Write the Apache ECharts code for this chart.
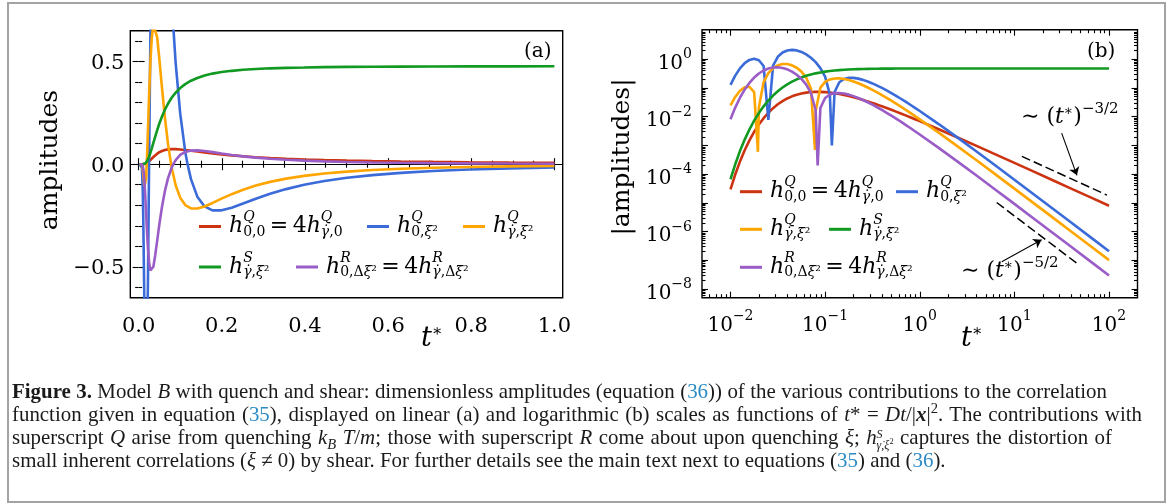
<!DOCTYPE html>
<html><head><meta charset="utf-8">
<script src="https://cdn.jsdelivr.net/npm/echarts@6/dist/echarts.min.js"></script>
<style>
html,body{margin:0;padding:0;background:#fff;}
#chart{position:absolute;left:0;top:0;width:1168px;height:504px;}
#frame{position:absolute;left:7px;top:2px;width:1159px;height:501px;box-sizing:border-box;border:2px solid #a3a3a3;pointer-events:none;}
#caption{position:absolute;left:12px;top:380px;font-family:'Liberation Serif';font-size:20.9px;line-height:23px;color:#1a1a1a;white-space:nowrap;}
#caption .ln{display:block;height:23px;}
#caption .j{text-align:justify;text-align-last:justify;}
#caption .c{color:#2a8bc6;}
#caption sup,#caption sub{font-size:70%;line-height:0;}
#caption .stk{display:inline-block;vertical-align:-5px;font-size:12px;line-height:11px;}
#caption .stk span{display:block;}
</style></head><body>
<div id="chart"></div>
<div id="caption">
<span class="ln j" style="width:1095px"><b>Figure 3.</b> Model <i>B</i> with quench and shear: dimensionless amplitudes (equation (<span class="c">36</span>)) of the various contributions to the correlation</span>
<span class="ln j" style="width:1130px">function given in equation (<span class="c">35</span>), displayed on linear (a) and logarithmic (b) scales as functions of <i>t</i>* = <i>Dt</i>/|<b><i>x</i></b>|<sup>2</sup>. The contributions with</span>
<span class="ln j" style="width:1100px">superscript <i>Q</i> arise from quenching <i>k</i><sub><i>B</i></sub> <i>T</i>/<i>m</i>; those with superscript <i>R</i> come about upon quenching <i>ξ</i>; <i>h</i><span class="stk"><span><i>S</i></span><span><i>γ̇</i>,<i>ξ</i><sup>2</sup></span></span> captures the distortion of</span>
<span class="ln">small inherent correlations (<i>ξ</i> ≠ 0) by shear. For further details see the main text next to equations (<span class="c">35</span>) and (<span class="c">36</span>).</span>
</div>
<div id="frame"></div>
<script>
// ---------------- data ----------------
const T = [0.002, 0.005, 0.008, 0.01, 0.01122, 0.01259, 0.01413, 0.01585, 0.01778, 0.01995, 0.02239, 0.02512, 0.02818, 0.03162, 0.03548, 0.03981, 0.04467, 0.05012, 0.05623, 0.0631, 0.07079, 0.07943, 0.08913, 0.1, 0.1122, 0.1259, 0.1413, 0.1585, 0.1778, 0.1995, 0.2239, 0.2512, 0.2818, 0.3162, 0.3548, 0.3981, 0.4467, 0.5012, 0.5623, 0.631, 0.7079, 0.7943, 0.8913, 1.0, 1.585, 2.512, 3.981, 6.31, 10, 15.85, 25.12, 39.81, 63.1, 100];

const RED = [0, 0, 1.8e-6, 2.958e-5, 9.687e-5, 2.739e-4, 6.785e-4, 1.494e-3, 2.965e-3, 5.356e-3, 8.905e-3, 0.01376, 0.01989, 0.02710, 0.03505, 0.04326, 0.05121, 0.05841, 0.06445, 0.06907, 0.07208, 0.07348, 0.07337, 0.07190, 0.06931, 0.06583, 0.06170, 0.05716, 0.05240, 0.04760, 0.04287, 0.03833, 0.03404, 0.03006, 0.02640, 0.02308, 0.02009, 0.01743, 0.01507, 0.01299, 0.01117, 0.009581, 0.008194, 0.007004, 0.003676, 0.001897, 9.684e-4, 4.909e-4, 2.479e-4, 1.248e-4, 6.272e-5, 3.150e-5, 1.580e-5, 7.927e-6];

const BLUE = [0, 0, -0.01768, -0.1279, -0.2699, -0.4814, -0.7315, -0.9489, -1.0404, -0.9274, -0.5818, -0.0078, 0.5966, 1.2175, 1.7167, 2.0267, 2.1261, 2.0359, 1.8032, 1.4840, 1.1340, 0.7941, 0.4923, 0.2472, 0.0597, -0.07278, -0.1580, -0.2056, -0.2249, -0.2247, -0.2118, -0.1916, -0.1682, -0.1442, -0.1213, -0.1005, -0.08207, -0.06635, -0.05314, -0.04221, -0.03331, -0.02612, -0.02035, -0.01581, -0.005547, -0.001870, -6.157e-4, -1.996e-4, -6.414e-5, -2.048e-5, -6.518e-6, -2.070e-6, -6.559e-7, -2.078e-7];

const ORANGE = [0, 0, -0.003673, -0.02459, -0.04882, -0.07995, -0.1067, -0.1103, -0.07137, 0.0208, 0.1612, 0.3284, 0.4905, 0.6157, 0.6818, 0.6805, 0.6169, 0.5072, 0.3714, 0.2290, 0.09664, -0.01567, -0.1028, -0.1629, -0.1991, -0.2152, -0.2159, -0.2057, -0.1886, -0.1679, -0.1459, -0.1243, -0.1042, -0.08608, -0.07028, -0.05680, -0.04548, -0.03616, -0.02855, -0.02240, -0.01749, -0.01360, -0.01051, -0.008110, -0.002791, -9.300e-4, -3.041e-4, -9.815e-5, -3.145e-5, -1.003e-5, -3.187e-6, -1.011e-6, -3.204e-7, -1.015e-7];

const GREEN = [0, 0, 4.0e-6, 6.654e-5, 2.210e-4, 6.345e-4, 1.600e-3, 3.591e-3, 7.280e-3, 0.01347, 0.02299, 0.03659, 0.05461, 0.07711, 0.1037, 0.1336, 0.1659, 0.1993, 0.2326, 0.2650, 0.2953, 0.3233, 0.3486, 0.3708, 0.3899, 0.4064, 0.4200, 0.4316, 0.4411, 0.4487, 0.4546, 0.4598, 0.4634, 0.4668, 0.4692, 0.4708, 0.4726, 0.4738, 0.4747, 0.4753, 0.4758, 0.4762, 0.4765, 0.4768, 0.4773, 0.4774, 0.4775, 0.4775, 0.4775, 0.4775, 0.4775, 0.4775, 0.4775, 0.4775];

const PURPLE = [0, 0, -8.02e-4, -8.13e-3, -0.02081, -0.04584, -0.08825, -0.1505, -0.2304, -0.3198, -0.4061, -0.4759, -0.5177, -0.5255, -0.4995, -0.4455, -0.3720, -0.2896, -0.2072, -0.1316, -0.06772, -0.01712, 0.02016, 0.04494, 0.0596, 0.06629, 0.06717, 0.06414, 0.05872, 0.05210, 0.04508, 0.03823, 0.03190, 0.02625, 0.02135, 0.01719, 0.01372, 0.01087, 0.008560, 0.006700, 0.005220, 0.004050, 0.003120, 0.002410, 8.241e-4, 2.737e-4, 8.931e-5, 2.879e-5, 9.217e-6, 2.937e-6, 9.333e-7, 2.961e-7, 9.379e-8, 2.970e-8];

// extra points read at the sign changes (bottoms of the cusps in panel b)
const BLUE_ZEROS = [[0.1178, -0.001]];
const ORANGE_ZEROS = [[0.0195, -0.0006], [0.0782, -0.0007]];
const PURPLE_ZEROS = [[0.0834, 0.0002]];

// reference power laws and arrows in panel (b): [t, |amplitude|]
const SLOPE_32 = [[12, 4.16e-4], [95, 1.87e-5]];
const SLOPE_52 = [[6.5, 1.03e-5], [45.5, 8.0e-8]];
const ARROW_32 = [[31.6, 2.67e-3], [45.8, 9.1e-5]];
const ARROW_52 = [[7.35, 8.9e-8], [19.4, 5.2e-7]];

// tick values
const XA_MAJOR = [0, 0.2, 0.4, 0.6, 0.8, 1.0];
const XA_MINOR = [0.05, 0.1, 0.15, 0.25, 0.3, 0.35, 0.45, 0.5, 0.55, 0.65, 0.7, 0.75, 0.85, 0.9, 0.95];
const YA_MAJOR = [-0.5, 0, 0.5];
const YA_MINOR = [-0.6, -0.4, -0.3, -0.2, -0.1, 0.1, 0.2, 0.3, 0.4, 0.6];
const XB_MAJOR = [0.01, 0.1, 1, 10, 100];
const YB_MAJOR = [1e-8, 1e-7, 1e-6, 1e-5, 1e-4, 1e-3, 1e-2, 1e-1, 1];
const YB_LABELS = [1e-8, 1e-6, 1e-4, 1e-2, 1];

const NAMES = ['red', 'blue', 'orange', 'green', 'purple'];
const COLORS = {red: '#cc3311', blue: '#3b6bd8', orange: '#ffa500', green: '#119922', purple: '#9a5cc6'};
const VALUES = {red: RED, blue: BLUE, orange: ORANGE, green: GREEN, purple: PURPLE};
const ZEROS = {red: [], blue: BLUE_ZEROS, orange: ORANGE_ZEROS, green: [], purple: PURPLE_ZEROS};

const LEGEND_LABELS = {
  red: '{s|}{h|h}{p|Q}{b|0,0}{r|\u2009=\u20094}{h|h}{p|Q}{bi|γ̇}{b|,0}',
  blue: '{s|}{h|h}{p|Q}{b|0,}{bi|ξ}{b|²}',
  orange: '{s|}{h|h}{p|Q}{bi|γ̇}{b|,}{bi|ξ}{b|²}',
  green: '{s|}{h|h}{p|S}{bi|γ̇}{b|,}{bi|ξ}{b|²}',
  purple: '{s|}{h|h}{p|R}{b|0,Δ}{bi|ξ}{b|²}{r|\u2009=\u20094}{h|h}{p|R}{bi|γ̇}{b|,Δ}{bi|ξ}{b|²}'
};
// legend sample positions: [left of sample, centre y of sample]
const LEGEND_A = {red: [199, 226.5], blue: [367, 226.5], orange: [463, 226.5], green: [199, 267], purple: [296, 267]};
const LEGEND_B = {red: [740, 191.7], blue: [896, 191.7], orange: [740, 229.3], green: [829, 229.3], purple: [740, 267.3]};

// ---------------- helpers ----------------
const FONT = 'DejaVu Serif';
function logMinor(lo, hi) {
  const out = [];
  for (let d = -10; d <= 3; d++) for (let m = 2; m <= 9; m++) {
    const v = Number((m * Math.pow(10, d)).toPrecision(3));
    if (v > lo * 1.0001 && v < hi * 0.9999) out.push(v);
  }
  return out;
}
const XB_MIN = 0.005, XB_MAX = 200, YB_MIN = 5e-9, YB_MAX = 10.7;
const XB_MINOR = logMinor(XB_MIN, XB_MAX);
const YB_MINOR = logMinor(YB_MIN, YB_MAX);

function pairs(name, tmin, tmax, absMode) {
  const v = VALUES[name], out = [];
  T.forEach((t, i) => { if (t >= tmin && t <= tmax) out.push([t, absMode ? Math.abs(v[i]) : v[i]]); });
  ZEROS[name].forEach(p => { if (p[0] >= tmin && p[0] <= tmax) out.push([p[0], absMode ? Math.abs(p[1]) : p[1]]); });
  out.sort((a, b) => a[0] - b[0]);
  return out;
}

const supExp = v => { const e = Math.round(Math.log10(v)); return '{b|10}{s|' + (e < 0 ? '−' : '') + Math.abs(e) + '}'; };
const LOG_RICH = {
  b: {fontFamily: FONT, fontSize: 20, color: '#000', padding: [9, 0, 0, 0]},
  s: {fontFamily: FONT, fontSize: 14, color: '#000', padding: [0, 0, 9, 0]}
};
const linFmt = v => '{n|' + (v < 0 ? '−' : '') + Math.abs(v).toFixed(1) + '}';
const LIN_RICH = {n: {fontFamily: FONT, fontSize: 21, color: '#000', padding: [4, 0, 0, 0]}};

function mkAxis(o) {
  return {
    gridIndex: o.grid, type: o.type, position: o.pos, min: o.min, max: o.max, logBase: 10,
    axisLine: {show: false}, splitLine: {show: false}, minorTick: {show: false}, silent: true,
    axisTick: {show: true, inside: true, length: o.len, customValues: o.ticks, lineStyle: {color: '#000', width: 1.1}},
    axisLabel: o.labels ? {show: true, customValues: o.labels, formatter: o.fmt, margin: o.margin,
      fontFamily: FONT, fontSize: 21, color: '#000', rich: o.rich} : {show: false}
  };
}
function axisSet(kind, grid, type, min, max, major, minor, labels, fmt, margin, rich) {
  const p1 = kind === 'x' ? 'bottom' : 'left', p2 = kind === 'x' ? 'top' : 'right';
  return [
    mkAxis({grid, type, pos: p1, min, max, len: 6, ticks: major, labels, fmt, margin, rich}),
    mkAxis({grid, type, pos: p1, min, max, len: 3.5, ticks: minor}),
    mkAxis({grid, type, pos: p2, min, max, len: 6, ticks: major}),
    mkAxis({grid, type, pos: p2, min, max, len: 3.5, ticks: minor})
  ];
}

const xAxes = [].concat(
  axisSet('x', 0, 'value', -0.02, 1.02, XA_MAJOR, XA_MINOR, XA_MAJOR, linFmt, 14, LIN_RICH),
  axisSet('x', 1, 'log', XB_MIN, XB_MAX, XB_MAJOR, XB_MINOR, XB_MAJOR, supExp, 9, LOG_RICH)
);
const yAxes = [].concat(
  axisSet('y', 0, 'value', -0.65, 0.65, YA_MAJOR, YA_MINOR, YA_MAJOR, linFmt, 6, LIN_RICH),
  axisSet('y', 1, 'log', YB_MIN, YB_MAX, YB_MAJOR, YB_MINOR, YB_LABELS, supExp, 10, LOG_RICH)
);

const series = [];
NAMES.forEach((n, idx) => {
  const s = {name: n, type: 'line', xAxisIndex: 0, yAxisIndex: 0, data: pairs(n, 0, 1.0, false),
    showSymbol: false, symbol: 'none', clip: true, lineStyle: {width: 2.6, color: COLORS[n]}, itemStyle: {color: COLORS[n]}, z: 3 + idx};
  if (n === 'red') s.markLine = {silent: true, symbol: ['none', 'none'], label: {show: false}, animation: false,
    lineStyle: {color: '#000', width: 1, type: 'solid'}, data: [{yAxis: 0}], z: 2};
  series.push(s);
});
NAMES.forEach((n, idx) => {
  series.push({name: n, type: 'line', xAxisIndex: 4, yAxisIndex: 4, data: pairs(n, 0.01, 100, true),
    showSymbol: false, symbol: 'none', clip: true, lineStyle: {width: 2.6, color: COLORS[n]}, itemStyle: {color: COLORS[n]}, z: 3 + idx});
});
[[SLOPE_32, ARROW_32], [SLOPE_52, ARROW_52]].forEach(([line, arrow]) => {
  series.push({type: 'line', xAxisIndex: 4, yAxisIndex: 4, data: line, showSymbol: false, symbol: 'none', z: 9,
    lineStyle: {color: '#000', width: 1.5, type: [9, 4]},
    markLine: {silent: true, symbol: ['none', 'arrow'], symbolSize: 8, label: {show: false}, animation: false,
      lineStyle: {color: '#000', width: 1.1, type: 'solid'},
      data: [[{coord: arrow[0]}, {coord: arrow[1]}]]}});
});

const LEG_RICH = {
  s: {width: 3},
  h: {fontFamily: FONT, fontStyle: 'italic', fontSize: 22, color: '#000'},
  r: {fontFamily: FONT, fontSize: 22, color: '#000'},
  p: {fontFamily: FONT, fontStyle: 'italic', fontSize: 14, color: '#000', width: 0, padding: [0, 0, 18, 0]},
  b: {fontFamily: FONT, fontSize: 14, color: '#000', padding: [11, 0, 0, 0]},
  bi: {fontFamily: FONT, fontStyle: 'italic', fontSize: 14, color: '#000', padding: [11, 0, 0, 0]}
};
const legends = [];
[LEGEND_A, LEGEND_B].forEach(L => NAMES.forEach(n => {
  legends.push({data: [n], left: L[n][0], top: L[n][1] - 18, padding: 0, itemGap: 0, icon: 'rect',
    itemWidth: 22, itemHeight: 3, selectedMode: false,
    formatter: name => LEGEND_LABELS[name], textStyle: {lineHeight: 36, rich: LEG_RICH}});
}));

const TXT = (x, y, text, size, extra) => ({type: 'text', x, y, silent: true, style: Object.assign({text, fill: '#000',
  fontFamily: FONT, fontSize: size, align: 'left', verticalAlign: 'middle', textAlign: 'left', textVerticalAlign: 'middle'}, extra || {})});
const ANN_RICH = {
  r: {fontFamily: FONT, fontSize: 22, color: '#000'},
  i: {fontFamily: FONT, fontSize: 22, fontStyle: 'italic', color: '#000'},
  st: {fontFamily: FONT, fontSize: 14, color: '#000', padding: [0, 0, 12, 0]},
  e: {fontFamily: FONT, fontSize: 15, color: '#000', padding: [0, 0, 16, 0]}
};
const TSTAR_RICH = {
  i: {fontFamily: FONT, fontSize: 27, fontStyle: 'italic', color: '#000'},
  st: {fontFamily: FONT, fontSize: 16, color: '#000', padding: [0, 0, 14, 0]}
};
const graphic = [
  Object.assign(TXT(50, 160, 'amplitudes', 25, {align: 'center', textAlign: 'center'}), {rotation: Math.PI / 2}),
  Object.assign(TXT(622, 157, '|amplitudes|', 25, {align: 'center', textAlign: 'center'}), {rotation: Math.PI / 2}),
  TXT(421, 339, '{i|t}{st|∗}', 27, {rich: TSTAR_RICH}),
  TXT(961, 339, '{i|t}{st|∗}', 27, {rich: TSTAR_RICH}),
  TXT(524, 51.5, '(a)', 20),
  TXT(1087, 51.5, '(b)', 20),
  TXT(1021, 117, '{r|∼ (}{i|t}{st|∗}{r|)}{e|−3/2}', 22, {rich: ANN_RICH}),
  TXT(961, 271.5, '{r|∼ (}{i|t}{st|∗}{r|)}{e|−5/2}', 22, {rich: ANN_RICH})
];

const chart = echarts.init(document.getElementById('chart'), null, {renderer: 'canvas'});
chart.setOption({
  animation: false,
  backgroundColor: 'transparent',
  grid: [
    {left: 130.3, top: 30.7, width: 432.4, height: 267, show: true, borderColor: '#000', borderWidth: 1.4, backgroundColor: 'transparent', containLabel: false, outerBoundsMode: 'none'},
    {left: 702, top: 29.7, width: 435.5, height: 268, show: true, borderColor: '#000', borderWidth: 1.4, backgroundColor: 'transparent', containLabel: false, outerBoundsMode: 'none'}
  ],
  xAxis: xAxes,
  yAxis: yAxes,
  legend: legends,
  series: series,
  graphic: graphic
});
</script>
</body></html>
